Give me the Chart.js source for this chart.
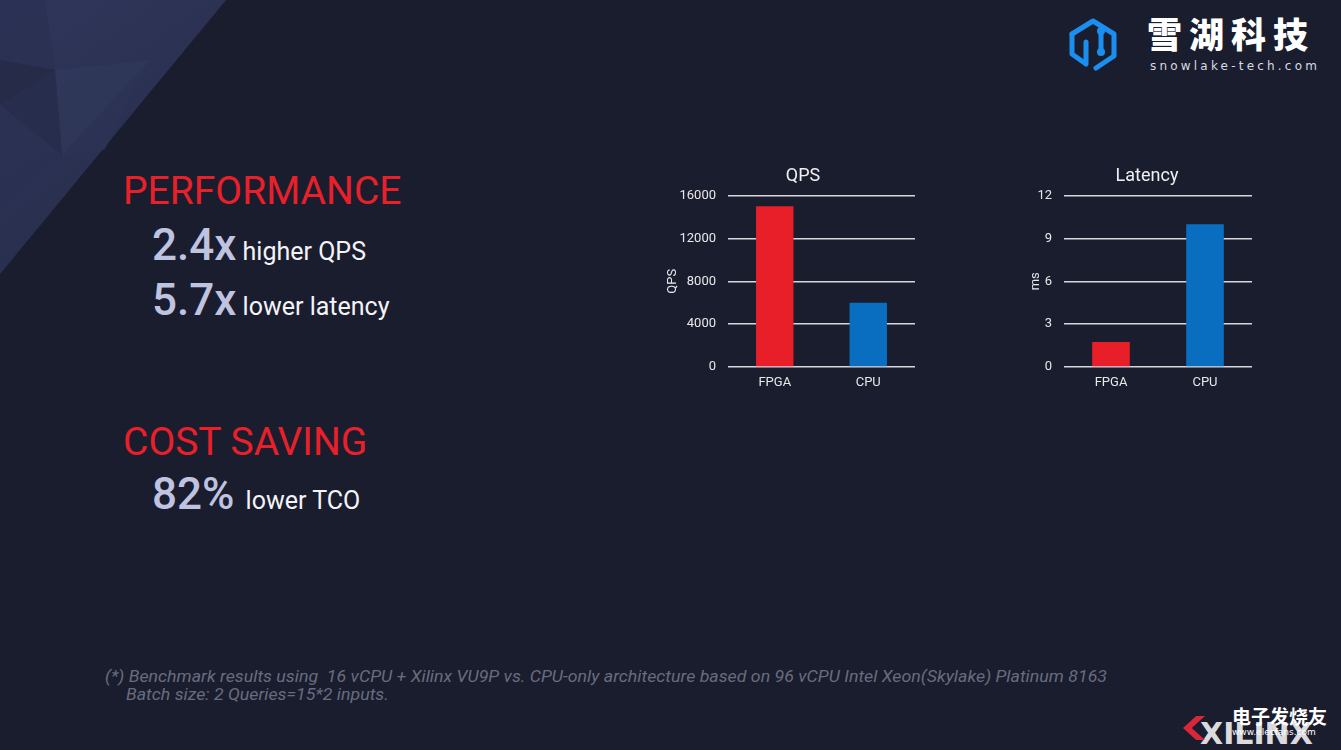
<!DOCTYPE html>
<html>
<head>
<meta charset="utf-8">
<script src="https://cdn.jsdelivr.net/npm/chart.js@4.4.1/dist/chart.umd.min.js"></script>
<style>
  html, body { margin: 0; padding: 0; }
  body {
    width: 1341px; height: 750px; overflow: hidden; position: relative;
    background: #1a1d2e; font-family: Roboto, "Noto Sans", sans-serif;
  }
  .abs { position: absolute; white-space: nowrap; }
  .facet { position: absolute; left: 0; top: 0; width: 1341px; height: 750px; }
  .head { color: #e8202a; font-size: 39px; line-height: 1; left: 123px; }
  .big { color: #bfc3e0; font-size: 44px; font-weight: 500; line-height: 1; left: 152px; }
  .big span { color: #f4f4f8; font-size: 25px; font-weight: 400; }
  .note { color: #686c7e; font-size: 17px; line-height: 1; font-style: italic; transform-origin: 0 0; }
  .chartbox { position: absolute; }
</style>
</head>
<body>
<!-- faceted corner at top-left -->
<svg class="facet" viewBox="0 0 1341 750">
  <defs>
    <linearGradient id="cg" x1="0" y1="0" x2="0.6" y2="1">
      <stop offset="0" stop-color="#2f365a"/>
      <stop offset="1" stop-color="#272d4b"/>
    </linearGradient>
  </defs>
  <polygon points="0,0 226,0 0,274" fill="url(#cg)"/>
  <polygon points="0,0 45,0 55,70 0,60" fill="#2b3152" opacity="0.8"/>
  <polygon points="0,60 55,70 0,105" fill="#232843" opacity="0.7"/>
  <polygon points="55,70 150,60 62,155" fill="#323a5e" opacity="0.6"/>
  <polygon points="0,105 55,70 62,155" fill="#242a47" opacity="0.6"/>
  <polygon points="62,155 150,60 105,150" fill="#2d3456" opacity="0.6"/>
  <polygon points="0,105 62,155 0,210" fill="#2a3152" opacity="0.6"/>
</svg>

<!-- logo -->
<svg class="abs" style="left:1064px;top:14px" width="58" height="60" viewBox="0 0 58 60">
  <g fill="none" stroke="#1b8ff0" stroke-width="5" stroke-linejoin="round" stroke-linecap="round">
    <polyline points="8,20 29,7 50,20 50,42 32,54"/>
    <polyline points="8,20 8,40 22,50 22,28"/>
    <polyline points="37,19 37,36"/>
  </g>
  <circle cx="37" cy="17" r="4" fill="#1b8ff0"/>
  <circle cx="37" cy="38" r="4" fill="#1b8ff0"/>
</svg>
<div class="abs" style="left:1147px;top:17px;color:#fff;font-family:'Noto Sans CJK SC';font-weight:900;font-size:35px;letter-spacing:7px;line-height:0.9">雪湖科技</div>
<div class="abs" style="left:1150px;top:60px;color:#d8dae4;font-family:'DejaVu Sans';font-size:12px;letter-spacing:3.2px;line-height:1">snowlake-tech.com</div>

<!-- left text block -->
<div class="abs head" style="top:172px">PERFORMANCE</div>
<div class="abs big" style="top:223px">2.4x<span> higher QPS</span></div>
<div class="abs big" style="top:278px">5.7x<span> lower latency</span></div>
<div class="abs head" style="top:423px">COST SAVING</div>
<div class="abs big" style="top:472px">82%<span style="margin-left:5px"> lower TCO</span></div>

<!-- charts -->
<div class="chartbox" style="left:640px;top:151px;width:326px;height:260px"><canvas id="qpsChart"></canvas></div>
<div class="chartbox" style="left:980px;top:151px;width:334px;height:260px"><canvas id="latChart"></canvas></div>

<!-- footnote -->
<div class="abs note" id="note1" style="left:105px;top:668px">(*) Benchmark results using&nbsp; 16 vCPU + Xilinx VU9P vs. CPU-only architecture based on 96 vCPU Intel Xeon(Skylake) Platinum 8163</div>
<div class="abs note" id="note2" style="left:126px;top:686px">Batch size: 2 Queries=15*2 inputs.</div>

<!-- watermark bottom-right -->
<div class="abs" style="left:1200px;top:719px;color:rgba(255,255,255,0.85);font-family:'DejaVu Sans';font-weight:bold;font-size:30px;letter-spacing:0px;line-height:1">XILINX</div>
<div class="abs" style="left:1183px;top:716px;width:22px;height:24px;background:#d8263a;clip-path:polygon(0 50%,60% 0,100% 0,40% 50%,100% 100%,60% 100%)"></div>
<div class="abs" style="left:1232px;top:706px;color:#fff;font-family:'Noto Sans CJK SC';font-weight:bold;font-size:19px;line-height:1">电子发烧友</div>
<div class="abs" style="left:1232px;top:728px;color:#fff;font-family:'DejaVu Sans';font-size:9px;line-height:1">www.elecfans.com</div>

<script>
// chart data
var categories = ['FPGA', 'CPU'];
var qpsValues = [15000, 6000];
var latencyValues = [1.75, 10];
var qpsTicks = [0, 4000, 8000, 12000, 16000];
var latencyTicks = [0, 3, 6, 9, 12];

var barColors = ['#e81e28', '#0a6ec0'];

// squeeze the footnote like the condensed italic of the slide
var n1 = document.getElementById('note1');
var n2 = document.getElementById('note2');
var sx = 1002 / n1.getBoundingClientRect().width;
n1.style.transform = 'scaleX(' + sx + ')';
n2.style.transform = 'scaleX(' + sx + ')';

// an empty right-hand scale (rightGap wide) nudges the centred title over the plot
function makeBarChart(id, title, axisTitle, values, ticks, padLeft, yWidth, padRight, rightGap) {
    return new Chart(document.getElementById(id), {
        type: 'bar',
        data: {
            labels: categories,
            datasets: [{
                data: values,
                backgroundColor: barColors,
                borderWidth: 0,
                barPercentage: 0.4,
                categoryPercentage: 1
            }]
        },
        options: {
            responsive: true,
            maintainAspectRatio: false,
            animation: false,
            layout: { padding: { left: padLeft, right: padRight, top: 0, bottom: 14 } },
            plugins: {
                legend: { display: false },
                tooltip: { enabled: false },
                title: {
                    display: true,
                    text: title,
                    color: '#f0f0f0',
                    font: { family: 'Roboto', size: 18, weight: 'normal' },
                    padding: { top: 15, bottom: 8 }
                }
            },
            scales: {
                x: {
                    grid: { display: false },
                    border: { display: false },
                    ticks: { color: '#e8e8e8', font: { family: 'Roboto', size: 13 }, padding: 0 },
                    afterFit: function (s) { s.height = 30; }
                },
                y: {
                    min: ticks[0],
                    max: ticks[ticks.length - 1],
                    afterBuildTicks: function (s) {
                        s.ticks = ticks.map(function (v) { return { value: v }; });
                    },
                    grid: { color: 'rgba(235,235,240,0.9)', lineWidth: 1.5, drawTicks: false },
                    border: { display: false },
                    ticks: {
                        color: '#e8e8e8',
                        font: { family: 'Roboto', size: 13 },
                        padding: 12,
                        callback: function (v) { return String(v); }
                    },
                    title: {
                        display: true,
                        text: axisTitle,
                        color: '#e8e8e8',
                        font: { family: 'Roboto', size: 13 }
                    },
                    afterFit: function (s) { s.width = yWidth; }
                },
                gap: {
                    type: 'linear',
                    axis: 'y',
                    position: 'right',
                    grid: { display: false },
                    border: { display: false },
                    ticks: { display: false },
                    afterFit: function (s) { s.width = rightGap; }
                }
            }
        }
    });
}

makeBarChart('qpsChart', 'QPS', 'QPS', qpsValues, qpsTicks, 21, 67, 21, 30);
makeBarChart('latChart', 'Latency', 'ms', latencyValues, latencyTicks, 44, 40, 44, 18);
</script>
</body>
</html>
